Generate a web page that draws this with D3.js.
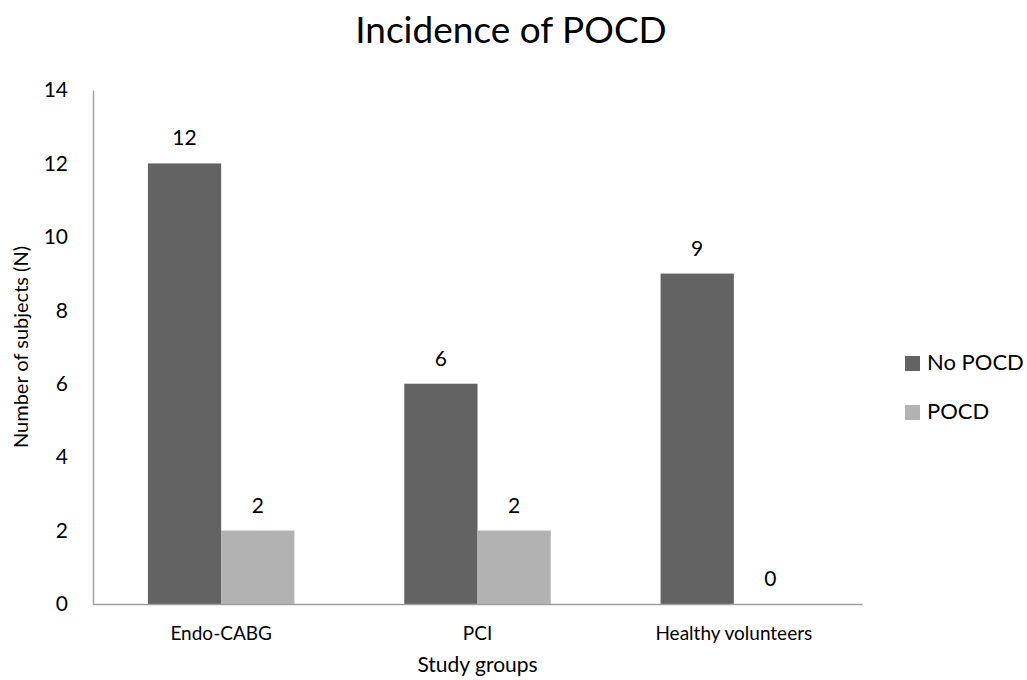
<!DOCTYPE html>
<html>
<head>
<meta charset="utf-8">
<script src="https://cdn.jsdelivr.net/npm/d3@7"></script>
<style>
  html, body { margin: 0; padding: 0; background: #fff; }
  svg text { font-family: Lato, "Open Sans", sans-serif; fill: #000; }
</style>
</head>
<body>
<svg id="chart" width="1027" height="680"></svg>
<script>
const categories = ["Endo-CABG", "PCI", "Healthy volunteers"];
const seriesNames = ["No POCD", "POCD"];
const noPocd = [12, 6, 9];
const pocd = [2, 2, 0];
const yTicks = [0, 2, 4, 6, 8, 10, 12, 14];
const colors = ["#636363", "#b2b2b2"];

const svg = d3.select("#chart");
const plot = { left: 93, right: 862, top: 90, bottom: 604 };

const x0 = d3.scaleBand().domain(categories).range([plot.left, plot.right]).padding(0);
const bw = x0.bandwidth() / 3.5;
const x1 = d3.scaleBand().domain(seriesNames)
  .range([(x0.bandwidth() - 2 * bw) / 2, (x0.bandwidth() + 2 * bw) / 2]).padding(0);
const y = d3.scaleLinear().domain([0, 14]).range([plot.bottom, plot.top]);

const table = categories.map((c, i) => ({ cat: c, values: [noPocd[i], pocd[i]] }));

// Title
svg.append("text").attr("x", 511).attr("y", 43).attr("text-anchor", "middle")
  .style("font-size", "37px").text("Incidence of POCD");

// Y axis
const yAxis = d3.axisLeft(y).tickValues(yTicks).tickSize(0).tickPadding(25);
const gy = svg.append("g").attr("transform", `translate(${plot.left},0)`).call(yAxis);
gy.select(".domain").attr("stroke", "#a0a0a0").attr("stroke-width", 1.5);
gy.selectAll(".tick text").style("font-size", "21px").attr("fill", "#000")
  .style("font-family", "Lato, 'Open Sans', sans-serif");

// Bars
const groups = svg.append("g").selectAll("g").data(table).join("g")
  .attr("transform", d => `translate(${x0(d.cat)},0)`);
groups.selectAll("rect").data(d => d.values.map((v, j) => ({ v, s: seriesNames[j], j })))
  .join("rect")
  .attr("x", d => x1(d.s)).attr("width", x1.bandwidth())
  .attr("y", d => y(d.v)).attr("height", d => y(0) - y(d.v))
  .attr("fill", d => colors[d.j]);
groups.selectAll("text.val").data(d => d.values.map((v, j) => ({ v, s: seriesNames[j] })))
  .join("text").attr("class", "val")
  .attr("x", d => x1(d.s) + x1.bandwidth() / 2)
  .attr("y", d => y(d.v) - 18)
  .attr("text-anchor", "middle").style("font-size", "21px").text(d => d.v);

// X axis
const xAxis = d3.axisBottom(x0).tickSize(0).tickPadding(0);
const gx = svg.append("g").attr("transform", `translate(0,${plot.bottom})`).call(xAxis);
gx.select(".domain").attr("stroke", "#a0a0a0").attr("stroke-width", 1.5);
gx.selectAll(".tick text").attr("dy", null).attr("y", 36).style("font-size", "19px")
  .attr("fill", "#000").style("font-family", "Lato, 'Open Sans', sans-serif");

// Axis titles
svg.append("text").attr("x", (plot.left + plot.right) / 2).attr("y", 672)
  .attr("text-anchor", "middle").style("font-size", "21px").text("Study groups");
svg.append("text").attr("transform", `translate(28,${(plot.top + plot.bottom) / 2}) rotate(-90)`)
  .attr("text-anchor", "middle").style("font-size", "20px").text("Number of subjects (N)");

// Legend
const legend = svg.append("g").selectAll("g").data(seriesNames).join("g")
  .attr("transform", (d, i) => `translate(905,${356 + i * 49})`);
legend.append("rect").attr("width", 15).attr("height", 15).attr("fill", (d, i) => colors[i]);
legend.append("text").attr("x", 22).attr("y", 14).style("font-size", "22px").text(d => d);
</script>
</body>
</html>
